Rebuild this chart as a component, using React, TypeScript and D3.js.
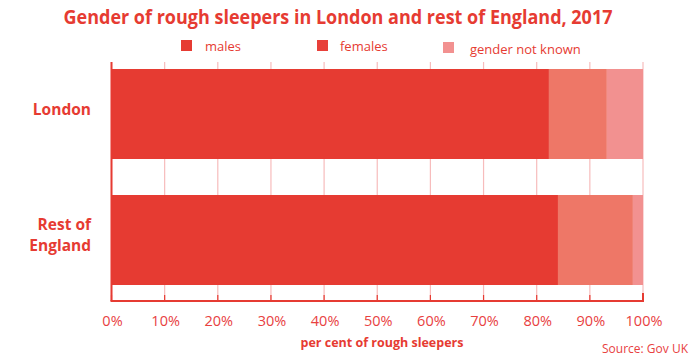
import React from "react"
import * as d3 from "d3"

const regions = ["London", "Rest of England"]
const males = [82.3, 84.0]
const females = [10.9, 14.1]
const notKnown = [6.8, 1.9]
const seriesKeys = ["males", "females", "gender not known"]
const tickValues = [0, 10, 20, 30, 40, 50, 60, 70, 80, 90, 100]

const RED = "#e63b32"
const colors = ["#e63b32", "#ee7767", "#f29190"]
// the original legend shows the females swatch in the males red
const legendColors = ["#e63b32", "#e8403a", "#f29190"]
const FONT = "'Open Sans', 'Liberation Sans', sans-serif"

const W = 692
const H = 362

function App() {
  const rows = regions.map((r, i) => ({
    region: r,
    males: males[i],
    females: females[i],
    "gender not known": notKnown[i],
  }))
  const series = d3.stack().keys(seriesKeys)(rows as any)

  const x = d3.scaleLinear().domain([0, 100]).range([111.5, 643])
  const y = d3.scaleBand().domain(regions).range([69, 285]).paddingInner(36 / 126).paddingOuter(0)
  const axisY = 301
  const gridTop = 62

  const legendX = [181, 317, 443]
  const legendTextX = [205, 340, 470]

  const restMid = y("Rest of England")! + y.bandwidth() / 2

  return (
    <svg width={W} height={H} style={{ position: "absolute", left: 0, top: 0, background: "#fff" }}>
      <text x={338} y={24} textAnchor="middle" fill={RED} fontFamily={FONT} fontWeight="bold" fontSize={19.5} textLength={549} lengthAdjust="spacingAndGlyphs">
        Gender of rough sleepers in London and rest of England, 2017
      </text>

      {seriesKeys.map((k, i) => (
        <g key={k}>
          <rect x={legendX[i]} y={i === 2 ? 42 : 40} width={11} height={11} fill={legendColors[i]} />
          <text x={legendTextX[i]} y={i === 2 ? 54 : 51} fill={RED} fontFamily={FONT} fontSize={13}>
            {k}
          </text>
        </g>
      ))}

      {/* grid lines */}
      {tickValues.map(t => (
        <g key={t}>
          <line x1={x(t)} x2={x(t)} y1={gridTop} y2={axisY} stroke="#f7bcbc" strokeWidth={1.2} />
          <line x1={x(t)} x2={x(t)} y1={axisY - 6} y2={axisY} stroke={RED} strokeWidth={1.2} />
        </g>
      ))}

      {series.map((s, i) => (
        <g key={s.key} fill={colors[i]}>
          {s.map((d: any) => (
            <rect
              key={d.data.region}
              x={x(d[0])}
              y={y(d.data.region)}
              width={x(d[1]) - x(d[0])}
              height={y.bandwidth()}
            />
          ))}
        </g>
      ))}

      {/* axes */}
      <line x1={x(0)} x2={x(0)} y1={gridTop} y2={axisY} stroke={RED} strokeWidth={2} />
      <line x1={x(100)} x2={x(100)} y1={axisY - 8} y2={axisY} stroke={RED} strokeWidth={2} />
      <line x1={x(0) - 1} x2={x(100) + 1} y1={axisY} y2={axisY} stroke={RED} strokeWidth={2.2} />

      {tickValues.map(t => (
        <text key={t} x={x(t) + 1} y={326} textAnchor="middle" fill="#e8413f" fontFamily={FONT} fontSize={14.5}>
          {t}%
        </text>
      ))}

      {/* category labels */}
      <text x={91} y={y("London")! + y.bandwidth() / 2 + 1} textAnchor="end" fill={RED} fontFamily={FONT} fontWeight="bold" fontSize={15.5}>
        London
      </text>
      <text x={91} y={restMid - 10} textAnchor="end" fill={RED} fontFamily={FONT} fontWeight="bold" fontSize={15.5}>
        Rest of
      </text>
      <text x={91} y={restMid + 11} textAnchor="end" fill={RED} fontFamily={FONT} fontWeight="bold" fontSize={15.5}>
        England
      </text>

      <text x={382} y={347} textAnchor="middle" fill={RED} fontFamily={FONT} fontWeight="bold" fontSize={12.5}>
        per cent of rough sleepers
      </text>
      <text x={688} y={353} textAnchor="end" fill="#e8413f" fontFamily={FONT} fontSize={12}>
        Source: Gov UK
      </text>
    </svg>
  )
}

export default App
